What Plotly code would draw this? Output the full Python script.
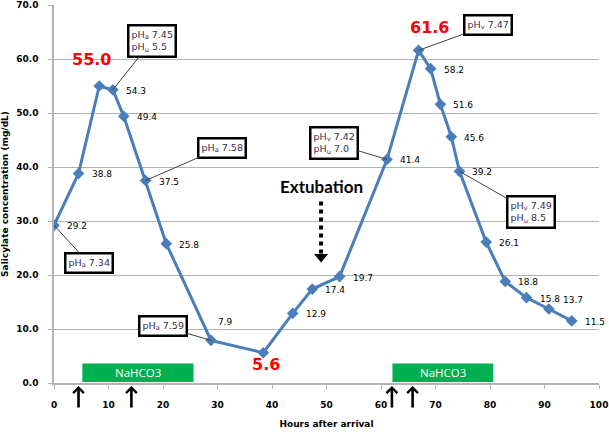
import plotly.graph_objects as go

# ---- data ----
hours = [0, 4.5, 8.3, 10.8, 12.8, 16.8, 20.6, 28.8, 38.4, 43.8, 47.4, 52.4,
         61.1, 66.9, 69.1, 70.9, 72.9, 74.4, 79.3, 82.8, 86.7, 90.8, 95.0]
salicylate = [29.2, 38.8, 55.0, 54.3, 49.4, 37.5, 25.8, 7.9, 5.6, 12.9, 17.4, 19.7,
              41.4, 61.6, 58.2, 51.6, 45.6, 39.2, 26.1, 18.8, 15.8, 13.7, 11.5]
peak_labels = ["55.0", "5.6", "61.6"]
peak_index = [2, 8, 13]

ph_texts = ["pH<sub>a</sub> 7.45<br>pH<sub>u</sub> 5.5",
            "pH<sub>a</sub> 7.58",
            "pH<sub>a</sub> 7.34",
            "pH<sub>a</sub> 7.59",
            "pH<sub>v</sub> 7.42<br>pH<sub>u</sub> 7.0",
            "pH<sub>v</sub> 7.47",
            "pH<sub>v</sub> 7.49<br>pH<sub>u</sub> 8.5"]
ph_index = [3, 5, 0, 7, 12, 13, 17]

nahco3_start = [5.2, 62.1]
nahco3_end = [25.6, 80.6]
bolus_hours = [4.5, 14.2, 62.0, 65.8]
extubation_hour = 49.0

y_ticks = [0, 10, 20, 30, 40, 50, 60, 70]
x_ticks = [0, 10, 20, 30, 40, 50, 60, 70, 80, 90, 100]

# ---- styling ----
LINE = "#4A7EBB"
GRID = "#B3B3B3"
NUMFONT = "DejaVu Sans"

fig = go.Figure()
fig.add_trace(go.Scatter(
    x=hours, y=salicylate, mode="lines+markers",
    line=dict(color=LINE, width=3),
    marker=dict(symbol="diamond", size=9, color=LINE),
    hoverinfo="skip", showlegend=False,
))

annotations = []
# data labels
label_offsets = {7: (5, 18), 21: (12, 9)}
for i, (h, v) in enumerate(zip(hours, salicylate)):
    if i in peak_index:
        continue
    dx, dy = label_offsets.get(i, (11, -1))
    annotations.append(dict(
        x=h, y=v, text=f"{v:.1f}", showarrow=False,
        xanchor="left", yanchor="middle", xshift=dx, yshift=dy,
        font=dict(family=NUMFONT, size=9, color="black")))

# red peak / trough labels
peak_shift = [(-8, 27), (3, -12), (11, 23)]
for lab, idx, (dx, dy) in zip(peak_labels, peak_index, peak_shift):
    annotations.append(dict(
        x=hours[idx], y=salicylate[idx], text=lab, showarrow=False,
        xanchor="center", yanchor="middle", xshift=dx, yshift=dy,
        font=dict(family=NUMFONT, size=16, color="#FF0000", weight="bold")))

# pH callouts
ph_offsets = [(39, -49), (76, -33), (35, 38), (-48, -14), (-53, -16), (69, -25), (72, 41)]
for txt, idx, (ax, ay) in zip(ph_texts, ph_index, ph_offsets):
    annotations.append(dict(
        x=hours[idx], y=salicylate[idx], text=txt, showarrow=True,
        ax=ax, ay=ay, arrowhead=0, arrowwidth=1, arrowcolor="#404040",
        bgcolor="white", bordercolor="black", borderwidth=2.5, borderpad=2,
        align="left",
        font=dict(family=NUMFONT, size=9.5, color="#3b2f4a")))

# NaHCO3 bars
shapes = []
for s, e in zip(nahco3_start, nahco3_end):
    shapes.append(dict(type="rect", xref="x", yref="y", x0=s, x1=e, y0=0.2, y1=3.6,
                       fillcolor="#00B050", line=dict(width=0), layer="above"))
    annotations.append(dict(x=(s + e) / 2, y=1.9, text="NaHCO3", showarrow=False,
                            font=dict(family="Open Sans", size=11.5, color="white")))

# bolus arrows below the axis
for b in bolus_hours:
    annotations.append(dict(x=b, y=-0.008, xref="x", yref="paper", text="", showarrow=True,
                            ax=0, ay=23, arrowhead=4, arrowsize=0.8, arrowwidth=2.6,
                            arrowcolor="black", standoff=0))

# Extubation
annotations.append(dict(x=extubation_hour, y=36.3, text="Extubation", showarrow=False,
                        font=dict(family="Lato", size=17, color="black", weight="bold")))
shapes.append(dict(type="line", xref="x", yref="y", x0=extubation_hour, x1=extubation_hour,
                   y0=33.6, y1=24.0, line=dict(color="black", width=4, dash="dot")))
shapes.append(dict(type="path", xref="x", yref="y",
                   path=f"M {extubation_hour-1.3},23.9 L {extubation_hour+1.3},23.9 "
                        f"L {extubation_hour},22.3 Z",
                   fillcolor="black", line=dict(width=0)))

fig.update_layout(
    width=609, height=432,
    margin=dict(l=54, r=10, t=5, b=49),
    paper_bgcolor="white", plot_bgcolor="white",
    annotations=annotations, shapes=shapes,
    xaxis=dict(range=[0, 100], tickvals=x_ticks, ticks="outside", ticklen=4,
               tickcolor=GRID, showline=True, linecolor=GRID, linewidth=1.5,
               showgrid=False, zeroline=False, ticklabelstandoff=8, automargin=False,
               tickfont=dict(family=NUMFONT, size=9, color="black", weight="bold"),
               title=dict(text="Hours after arrival", standoff=12,
                          font=dict(family=NUMFONT, size=9, color="black", weight="bold"))),
    yaxis=dict(range=[0, 70], tickvals=y_ticks, tickformat=".1f", ticks="outside",
               ticklen=4, tickcolor=GRID, showline=True, linecolor=GRID, linewidth=1.5,
               showgrid=True, gridcolor=GRID, gridwidth=1.2, zeroline=False,
               ticklabelstandoff=8, automargin=False,
               tickfont=dict(family=NUMFONT, size=9, color="black", weight="bold"),
               title=dict(text="Salicylate concentration (mg/dL)", standoff=10,
                          font=dict(family=NUMFONT, size=9, color="black", weight="bold"))),
)

fig.write_html("out.html", config={"displayModeBar": False},
               post_script="document.body.style.margin='0px';document.body.style.overflow='hidden';")
